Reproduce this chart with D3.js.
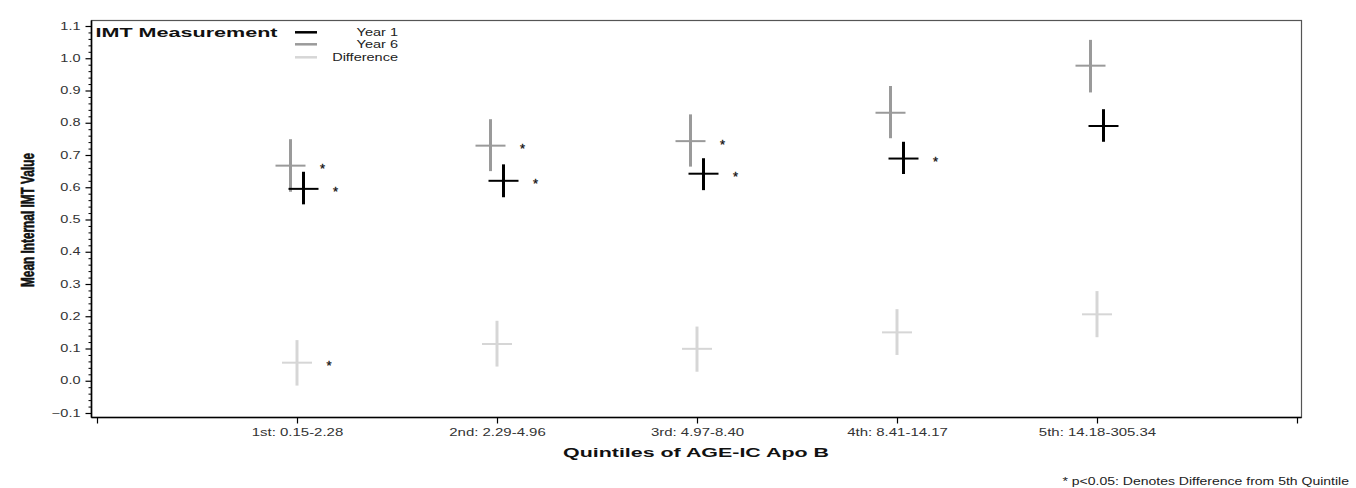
<!DOCTYPE html>
<html><head><meta charset="utf-8">
<script src="https://cdn.jsdelivr.net/npm/d3@7"></script>
<style>body{margin:0;background:#fff}svg{display:block;font-family:Arial,"Liberation Sans",sans-serif}</style>
</head><body><svg id="c" width="1356" height="488"></svg>
<script>
const categories = ["1st: 0.15-2.28","2nd: 2.29-4.96","3rd: 4.97-8.40","4th: 8.41-14.17","5th: 14.18-305.34"];
const year1Mean = [0.595,0.620,0.642,0.689,0.790];
const year1Lo   = [0.547,0.569,0.591,0.641,0.741];
const year1Hi   = [0.648,0.671,0.690,0.741,0.842];
const year6Mean = [0.667,0.729,0.743,0.831,0.977];
const year6Lo   = [0.586,0.650,0.664,0.752,0.894];
const year6Hi   = [0.749,0.811,0.826,0.914,1.057];
const diffMean  = [0.056,0.114,0.099,0.150,0.206];
const diffLo    = [-0.015,0.044,0.028,0.080,0.135];
const diffHi    = [0.126,0.186,0.168,0.222,0.278];
const year1Sig  = [1,1,1,1,0];
const year6Sig  = [1,1,1,0,0];
const diffSig   = [1,0,0,0,0];
const yTicks = [-0.1,0,0.1,0.2,0.3,0.4,0.5,0.6,0.7,0.8,0.9,1.0,1.1];
const seriesNames = ["Year 1","Year 6","Difference"];

const svg = d3.select("#c");
const L=91.5, R=1301.5, T=20.5, B=417.5;
const x = d3.scaleLinear().domain([0,6]).range([97,1297]);
const y = d3.scaleLinear().domain([-0.1,1.1]).range([413,26]);
function stretch(sel, k){ sel.each(function(){ const w=this.getComputedTextLength(); this.setAttribute("textLength", w*k); this.setAttribute("lengthAdjust","spacingAndGlyphs"); }); }

// frame
svg.append("rect").attr("x",L).attr("y",T).attr("width",R-L).attr("height",B-T).attr("fill","none").attr("stroke","#555").attr("stroke-width",1.2);
svg.append("line").attr("x1",L).attr("x2",L).attr("y1",T).attr("y2",B).attr("stroke","#000").attr("stroke-width",1.6);
svg.append("line").attr("x1",L).attr("x2",R).attr("y1",B).attr("y2",B).attr("stroke","#000").attr("stroke-width",1.6);

// y axis
const minor = d3.range(-0.1,1.1001,0.02).map(v=>+v.toFixed(2)).filter(v=>!yTicks.some(t=>Math.abs(t-v)<1e-6));
const ga = svg.append("g").attr("transform",`translate(${L},0)`)
  .call(d3.axisLeft(y).tickValues(yTicks).tickFormat(d3.format(".1f")).tickSize(6).tickPadding(5));
ga.select(".domain").remove();
ga.selectAll("line").attr("stroke","#000").attr("stroke-width",1.2);
ga.selectAll("text").attr("font-size",10).attr("fill","#333").attr("font-family","Arial,'Liberation Sans',sans-serif");
stretch(ga.selectAll("text"),1.45);
const gm = svg.append("g").attr("transform",`translate(${L},0)`)
  .call(d3.axisLeft(y).tickValues(minor).tickFormat("").tickSize(3));
gm.select(".domain").remove();
gm.selectAll("line").attr("stroke","#000").attr("stroke-width",1);

// x axis
const gx = svg.append("g").attr("transform",`translate(0,${B})`)
  .call(d3.axisBottom(x).tickValues([0,1,2,3,4,5,6]).tickFormat(d=> (d>=1&&d<=5)?categories[d-1]:"").tickSize(6).tickPadding(5));
gx.select(".domain").remove();
gx.selectAll("line").attr("stroke","#000").attr("stroke-width",1.2);
gx.selectAll("text").attr("font-size",11).attr("fill","#333").attr("font-family","Arial,'Liberation Sans',sans-serif");
stretch(gx.selectAll("text").filter(function(){return this.textContent.length>0;}),1.36);

// axis titles
svg.append("text").attr("transform","translate(33.5,220) rotate(-90)")
  .attr("text-anchor","middle").attr("font-size",18).attr("font-weight","bold").attr("fill","#111")
  .attr("textLength",134).attr("lengthAdjust","spacingAndGlyphs").attr("stroke","#111").attr("stroke-width",0.6)
  .text("Mean Internal IMT Value");
svg.append("text").attr("x",696).attr("y",457).attr("text-anchor","middle").attr("font-size",13).attr("font-weight","bold").attr("fill","#111")
  .attr("textLength",266).attr("lengthAdjust","spacingAndGlyphs").text("Quintiles of AGE-IC Apo B");
const fn = svg.append("text").attr("x",1349).attr("y",485).attr("text-anchor","end").attr("font-size",10).attr("fill","#222")
  .text("* p<0.05: Denotes Difference from 5th Quintile");
stretch(fn,1.4);

// legend
svg.append("text").attr("x",95.5).attr("y",36.5).attr("font-size",13).attr("font-weight","bold").attr("fill","#111")
  .attr("textLength",182).attr("lengthAdjust","spacingAndGlyphs").text("IMT Measurement");
const colors = ["#000000","#9a9a9a","#d6d6d6"];
const legY = [32.3,44.3,57.3];
seriesNames.forEach((n,i)=>{
  svg.append("line").attr("x1",295).attr("x2",317).attr("y1",legY[i]).attr("y2",legY[i]).attr("stroke",colors[i]).attr("stroke-width",2.5);
  const t = svg.append("text").attr("x",398).attr("y",legY[i]+3.6).attr("text-anchor","end").attr("font-size",10).attr("fill","#222").text(n);
  stretch(t,1.45);
});

// markers
const series = [
  {mean:year1Mean, lo:year1Lo, hi:year1Hi, sig:year1Sig, color:colors[0], off:6.5},
  {mean:year6Mean, lo:year6Lo, hi:year6Hi, sig:year6Sig, color:colors[1], off:-6.5},
  {mean:diffMean,  lo:diffLo,  hi:diffHi,  sig:diffSig,  color:colors[2], off:0}
];
[series[2],series[1],series[0]].forEach(s=>{
  const g = svg.append("g");
  categories.forEach((c,i)=>{
    const cx = x(i+1)+s.off;
    g.append("line").attr("x1",cx).attr("x2",cx).attr("y1",y(s.hi[i])).attr("y2",y(s.lo[i])).attr("stroke",s.color).attr("stroke-width",3);
    g.append("line").attr("x1",cx-15).attr("x2",cx+15).attr("y1",y(s.mean[i])).attr("y2",y(s.mean[i])).attr("stroke",s.color).attr("stroke-width",2);
    if(s.sig[i]){
      g.append("text").attr("x",cx+32).attr("y",y(s.mean[i])+7.5).attr("text-anchor","middle").attr("font-size",13).attr("fill","#111").attr("stroke","#111").attr("stroke-width",0.3).text("*");
    }
  });
});
</script></body></html>
